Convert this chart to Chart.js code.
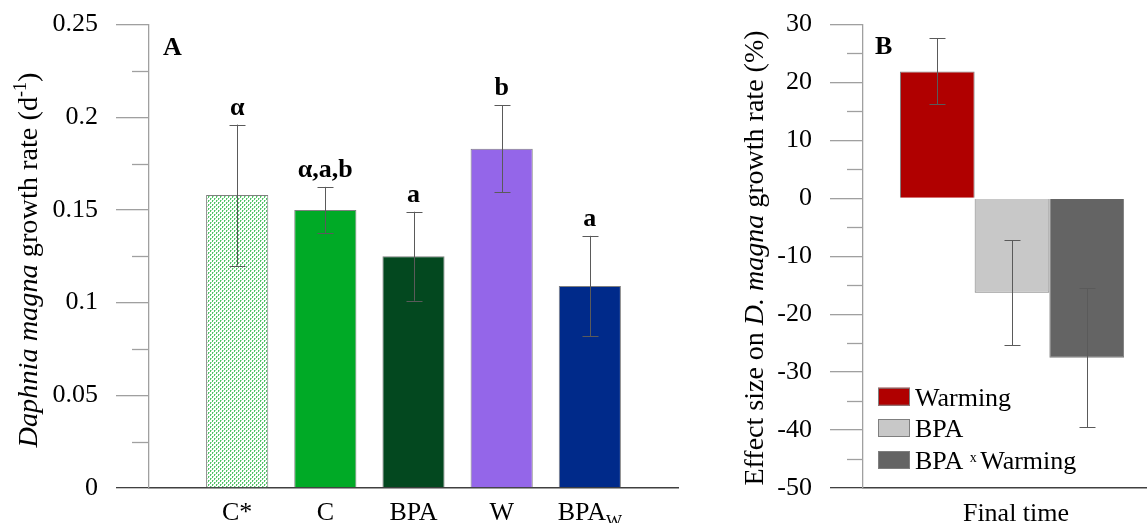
<!DOCTYPE html>
<html>
<head>
<meta charset="utf-8">
<script src="https://cdn.jsdelivr.net/npm/chart.js@4.4.1/dist/chart.umd.min.js"></script>
<style>
  html, body { margin: 0; padding: 0; background: #fff; overflow: hidden; width: 1147px; height: 523px; }
  #chartA { position: absolute; left: 0; top: 0; }
  #chartB { position: absolute; left: 720px; top: 0; }
</style>
</head>
<body>
<canvas id="chartA" width="700" height="523"></canvas>
<canvas id="chartB" width="441" height="523"></canvas>
<script>
// Panel A: growth rate per treatment
const growthCategories = ['C*', 'C', 'BPA', 'W', 'BPA_W'];
const growthRate = [0.158, 0.150, 0.125, 0.183, 0.109];
const growthErr = [0.038, 0.0124, 0.024, 0.0235, 0.027];
const growthLetters = ['α', 'α,a,b', 'a', 'b', 'a'];
const growthTickMin = 0;
const growthTickMax = 0.25;
const growthTickStep = 0.05;

// Panel B: effect sizes
const effectCategories = ['Final time'];
const effectSeries = ['Warming', 'BPA', 'BPA x Warming'];
const effectValues = [21.9, -16.3, -27.5];
const effectErr = [5.7, 9.1, 12.0];
const effectTickMin = -50;
const effectTickMax = 30;
const effectTickStep = 10;

const SERIF = "'Liberation Serif', 'Times New Roman', serif";
const AXIS_GREY = '#a0a0a0';
const BASE_DARK = '#404040';

function dotPattern() {
    const c = document.createElement('canvas');
    c.width = 4; c.height = 4;
    const g = c.getContext('2d');
    g.fillStyle = '#ffffff';
    g.fillRect(0, 0, 4, 4);
    g.fillStyle = '#52c468';
    g.fillRect(0, 0, 1, 2);
    g.fillRect(2, 2, 1, 2);
    g.fillStyle = '#a8e2b2';
    g.fillRect(1, 0, 1, 1);
    g.fillRect(3, 2, 1, 1);
    return c.getContext('2d').createPattern(c, 'repeat');
}

// draw a run of text pieces with their own fonts / offsets
function drawRich(ctx, parts, x, y, angle) {
    ctx.save();
    ctx.translate(x, y);
    ctx.rotate(angle || 0);
    let total = 0;
    parts.forEach(p => { ctx.font = p.font; p.w = ctx.measureText(p.text).width; total += p.w; });
    let cx = -total / 2;
    ctx.textAlign = 'left';
    ctx.textBaseline = 'alphabetic';
    ctx.fillStyle = '#000';
    parts.forEach(p => { ctx.font = p.font; ctx.fillText(p.text, cx, p.dy || 0); cx += p.w; });
    ctx.restore();
}

function labelParts(label) {
    if (label.includes('_')) {
        const [main, sub] = label.split('_');
        return [
            { text: main, font: `26px ${SERIF}` },
            { text: sub, font: `17px ${SERIF}`, dy: 6 }
        ];
    }
    return [{ text: label, font: `26px ${SERIF}` }];
}

function minorTicks(len) {
    return {
        id: 'minorTicks',
        afterDraw(chart) {
            const y = chart.scales.y;
            const ctx = chart.ctx;
            const step = y.options.ticks.stepSize;
            ctx.save();
            ctx.strokeStyle = AXIS_GREY;
            ctx.lineWidth = 1.3;
            for (let v = y.min + step / 2; v < y.max; v += step) {
                const py = Math.round(y.getPixelForValue(v)) + 0.5;
                ctx.beginPath();
                ctx.moveTo(y.right - len, py);
                ctx.lineTo(y.right, py);
                ctx.stroke();
            }
            ctx.restore();
        }
    };
}

function drawErrorBar(ctx, yScale, x, value, err) {
    const top = yScale.getPixelForValue(value + err);
    const bot = yScale.getPixelForValue(value - err);
    const px = Math.round(x) + 0.5;
    ctx.beginPath();
    ctx.moveTo(px, top); ctx.lineTo(px, bot);
    ctx.moveTo(px - 8, Math.round(top) + 0.5); ctx.lineTo(px + 8, Math.round(top) + 0.5);
    ctx.moveTo(px - 8, Math.round(bot) + 0.5); ctx.lineTo(px + 8, Math.round(bot) + 0.5);
    ctx.stroke();
}

function tickColor(ctx) {
    return ctx.tick && ctx.tick.value === ctx.scale.min ? BASE_DARK : AXIS_GREY;
}

function fixY(width) {
    return s => { s.width = width; s.paddingTop = 0; s.paddingBottom = 0; };
}

// ---------- Chart A ----------
const growthColors = [dotPattern(), '#00aa26', '#03481f', '#9466e9', '#002a8a'];

const panelA = {
    id: 'panelA',
    afterDatasetsDraw(chart) {
        const ctx = chart.ctx;
        const y = chart.scales.y;
        const meta = chart.getDatasetMeta(0);
        ctx.save();
        ctx.strokeStyle = '#5a5a5a';
        ctx.lineWidth = 1;
        growthRate.forEach((v, i) => {
            const el = meta.data[i + 1];
            drawErrorBar(ctx, y, el.x, v, growthErr[i]);
        });
        ctx.fillStyle = '#000';
        ctx.textAlign = 'center';
        ctx.textBaseline = 'alphabetic';
        ctx.font = `bold 26px ${SERIF}`;
        growthRate.forEach((v, i) => {
            const el = meta.data[i + 1];
            ctx.fillText(growthLetters[i], el.x, y.getPixelForValue(v + growthErr[i]) - 10);
        });
        ctx.textAlign = 'left';
        ctx.fillText('A', 163, 55);
        ctx.restore();

        const x = chart.scales.x;
        growthCategories.forEach((c, i) => {
            drawRich(ctx, labelParts(c), x.getPixelForValue(i + 1), 520, 0);
        });

        drawRich(ctx, [
            { text: 'Daphnia magna', font: `italic 28.3px ${SERIF}` },
            { text: ' growth rate (d', font: `28.3px ${SERIF}` },
            { text: '-1', font: `18px ${SERIF}`, dy: -11 },
            { text: ')', font: `28.3px ${SERIF}` }
        ], 37, 260, -Math.PI / 2);
    }
};

new Chart(document.getElementById('chartA'), {
    type: 'bar',
    data: {
        labels: ['', ...growthCategories, ''],
        datasets: [{
            data: [null, ...growthRate, null],
            backgroundColor: [null, ...growthColors, null],
            borderColor: '#7f7f7f',
            borderWidth: 1,
            categoryPercentage: 1,
            barPercentage: 0.705
        }]
    },
    options: {
        responsive: false,
        animation: false,
        devicePixelRatio: 1,
        layout: { padding: { top: 24.5, right: 22, left: 0, bottom: 0 } },
        plugins: { legend: { display: false }, tooltip: { enabled: false } },
        scales: {
            x: {
                offset: false,
                grid: { display: false },
                border: { display: true, color: BASE_DARK, width: 1.5 },
                ticks: { display: false },
                afterFit(s) { s.height = 35; s.paddingLeft = 0; s.paddingRight = 0; }
            },
            y: {
                min: growthTickMin,
                max: growthTickMax,
                ticks: {
                    stepSize: growthTickStep,
                    color: '#000',
                    padding: 18,
                    font: { family: SERIF, size: 26 },
                    callback: v => String(+v.toFixed(3))
                },
                grid: { drawOnChartArea: false, tickLength: 33, color: tickColor, tickColor: tickColor, lineWidth: 1.3 },
                border: { color: AXIS_GREY, width: 1.3 },
                afterFit: fixY(149)
            }
        }
    },
    plugins: [minorTicks(17), panelA]
});

// ---------- Chart B ----------
const effectColors = ['#b00000', '#c8c8c8', '#646464'];

const panelB = {
    id: 'panelB',
    afterDatasetsDraw(chart) {
        const ctx = chart.ctx;
        const y = chart.scales.y;
        ctx.save();
        ctx.strokeStyle = '#5a5a5a';
        ctx.lineWidth = 1;
        effectValues.forEach((v, i) => {
            const el = chart.getDatasetMeta(i).data[0];
            drawErrorBar(ctx, y, el.x, v, effectErr[i]);
        });
        ctx.fillStyle = '#000';
        ctx.font = `bold 26px ${SERIF}`;
        ctx.textAlign = 'left';
        ctx.textBaseline = 'alphabetic';
        ctx.fillText('B', 155, 54);

        // legend inside the plot
        const rowY = [396.7, 428, 460];
        effectSeries.forEach((name, i) => {
            ctx.fillStyle = effectColors[i];
            ctx.fillRect(158, rowY[i] - 9, 32, 18);
            ctx.strokeStyle = '#7f7f7f';
            ctx.strokeRect(158.5, rowY[i] - 8.5, 31, 17);
            ctx.fillStyle = '#000';
            ctx.textAlign = 'left';
            const parts = name.split(' x ');
            if (parts.length === 2) {
                ctx.font = `26px ${SERIF}`;
                let cx = 195;
                ctx.fillText(parts[0] + ' ', cx, rowY[i] + 9);
                cx += ctx.measureText(parts[0] + ' ').width;
                ctx.font = `14px ${SERIF}`;
                ctx.fillText('x ', cx, rowY[i] + 2);
                cx += ctx.measureText('x ').width;
                ctx.font = `26px ${SERIF}`;
                ctx.fillText(parts[1], cx, rowY[i] + 9);
            } else {
                ctx.font = `26px ${SERIF}`;
                ctx.fillText(name, 195, rowY[i] + 9);
            }
        });
        ctx.restore();

        const x = chart.scales.x;
        effectCategories.forEach((c, i) => {
            drawRich(ctx, labelParts(c), x.getPixelForValue(i) + 4, 521, 0);
        });

        drawRich(ctx, [
            { text: 'Effect size on ', font: `28px ${SERIF}` },
            { text: 'D. magna', font: `italic 28px ${SERIF}` },
            { text: ' growth rate (%)', font: `28px ${SERIF}` }
        ], 43, 258, -Math.PI / 2);
    }
};

new Chart(document.getElementById('chartB'), {
    type: 'bar',
    data: {
        labels: effectCategories,
        datasets: effectSeries.map((name, i) => ({
            label: name,
            data: [effectValues[i]],
            backgroundColor: effectColors[i],
            borderColor: '#7f7f7f',
            borderWidth: 1,
            categoryPercentage: 0.752,
            barPercentage: 1
        }))
    },
    options: {
        responsive: false,
        animation: false,
        devicePixelRatio: 1,
        layout: { padding: { top: 24.5, right: 0, left: 0, bottom: 0 } },
        plugins: { legend: { display: false }, tooltip: { enabled: false } },
        scales: {
            x: {
                grid: { display: false },
                border: { display: true, color: BASE_DARK, width: 1.5 },
                ticks: { display: false },
                afterFit(s) { s.height = 35; s.paddingLeft = 0; s.paddingRight = 0; }
            },
            y: {
                min: effectTickMin,
                max: effectTickMax,
                ticks: {
                    stepSize: effectTickStep,
                    color: '#000',
                    padding: 18,
                    font: { family: SERIF, size: 26 }
                },
                grid: { drawOnChartArea: false, tickLength: 33, color: tickColor, tickColor: tickColor, lineWidth: 1.3 },
                border: { color: AXIS_GREY, width: 1.3 },
                afterFit: fixY(143)
            }
        }
    },
    plugins: [minorTicks(16), panelB]
});
</script>
</body>
</html>
